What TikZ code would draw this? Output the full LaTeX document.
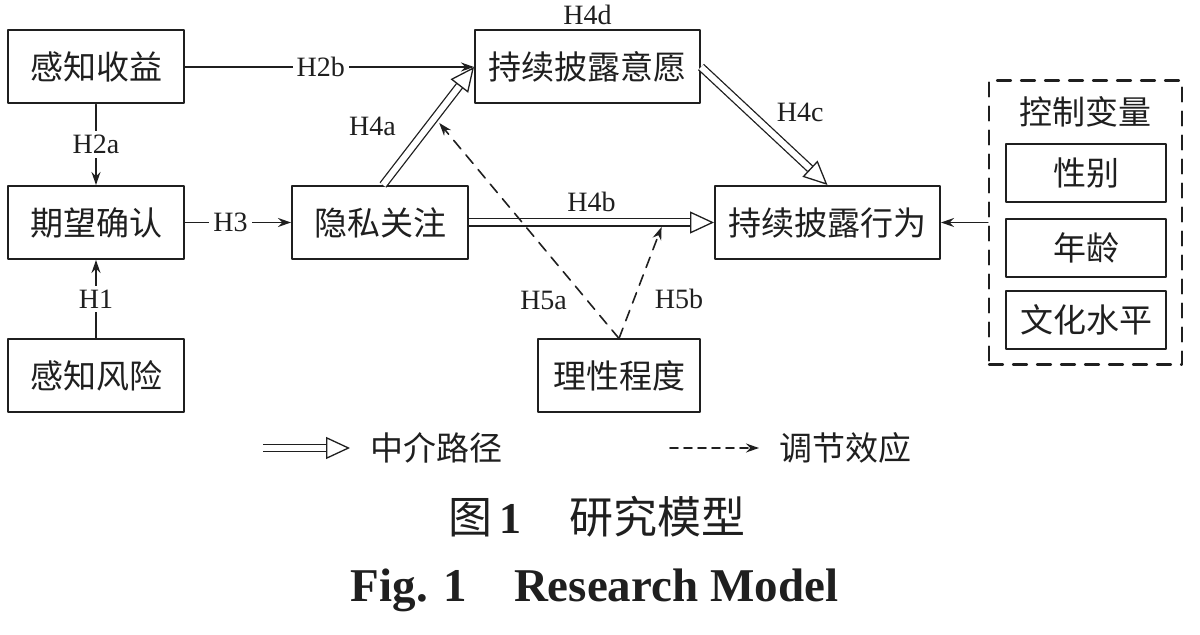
\documentclass[tikz,border=0pt]{standalone}
\usepackage{fontspec}
\setmainfont{Liberation Serif}
\newfontfamily\cjk{Noto Sans CJK SC}
\usetikzlibrary{arrows.meta}
\definecolor{ink}{gray}{0.12}

\begin{document}
\begin{tikzpicture}
	[line cap=round,line join=round,>={Stealth[length=6.5pt,width=4.5pt]},x=0.5pt,y=-0.5pt,
	 box/.style={draw=ink,line width=1pt,minimum width=88pt,minimum height=36.5pt,text=ink,font=\cjk\fontsize{16.5}{18}\selectfont},
	 sub/.style={box,minimum width=80pt,minimum height=29pt},
	 cjklabel/.style={text=ink,inner sep=2pt,font=\cjk\fontsize{16.5}{18}\selectfont},
	 hyp/.style={text=ink,inner sep=2pt,font=\fontsize{14}{16}\selectfont},
	 cut/.style={hyp,fill=white},
	 direct/.style={draw=ink,line width=0.7pt,->},
	 mediate/.style={draw=ink,line width=0.65pt,line cap=butt,double,double distance=3pt,-{Triangle[open,length=12pt,width=11pt,line width=0.65pt,fill=white]}},
	 moderate/.style={draw=ink,line width=0.8pt,dash pattern=on 5.5pt off 4pt,->}]
	\useasboundingbox (0,0) rectangle (1200,635);
	% constructs
	\node[box] (ben) at (96,67) {感知收益};
	\node[box] (exp) at (96,222.5) {期望确认};
	\node[box] (risk) at (96,376) {感知风险};
	\node[box] (priv) at (380,222.5) {隐私关注};
	\node[box,minimum width=112.5pt] (will) at (587.5,67) {持续披露意愿};
	\node[box,minimum width=112.5pt] (act) at (827.5,222.5) {持续披露行为};
	\node[box,minimum width=81pt] (rat) at (619,376) {理性程度};
	% control variables
	\node[draw=ink,line width=1.1pt,dash pattern=on 7pt off 5pt,minimum width=96.5pt,minimum height=142pt] (ctrl) at (1085.5,222.5) {};
	\node[cjklabel] (ctrlt) at (1085.5,112) {控制变量};
	\node[sub] (gen) at (1086,173.5) {性别};
	\node[sub] (age) at (1086,248) {年龄};
	\node[sub] (edu) at (1086,320) {文化水平};
	% direct paths
	\draw[direct] (ben) -- node[cut] (h2a) {H2a} (exp);
	\draw[direct] (risk) -- node[cut] (h1) {H1} (exp);
	\draw[direct] (exp) -- node[cut,pos=0.43] (h3) {H3} (priv);
	\draw[direct] (ben) -- node[cut,pos=0.47] (h2b) {H2b} (will);
	\draw[direct] (ctrl.west) -- (act.east);
	% mediating paths
	\draw[mediate] ([xshift=1.5pt]priv.north) -- coordinate[pos=0.57] (m4a) node[hyp,midway,left=14pt] (h4a) {H4a} (will.west);
	\draw[mediate] (will.east) -- node[hyp,midway,above right,xshift=4pt] (h4c) {H4c} (act.north);
	\draw[mediate] (priv.east) -- coordinate[pos=0.793] (m4b) node[hyp,midway,above=3pt] (h4b) {H4b} (act.west);
	\node[hyp,anchor=south] (h4d) at (will.north) {H4d};
	% moderating paths
	\draw[moderate,shorten >=3.4pt] (rat.north) -- node[hyp,pos=0.17,left=8pt] (h5a) {H5a} (m4a);
	\draw[moderate,shorten >=2.4pt] (rat.north) -- node[hyp,pos=0.34,right=8pt] (h5b) {H5b} (m4b);
	% legend
	\coordinate (l1a) at (263,448);
	\coordinate (l1b) at (350,448);
	\draw[mediate] (l1a) -- (l1b);
	\node[cjklabel,anchor=west] (l1t) at (366,448) {中介路径};
	\coordinate (l2a) at (670,448);
	\coordinate (l2b) at (759,448);
	\draw[moderate,dash pattern=on 4pt off 3pt] (l2a) -- (l2b);
	\node[cjklabel,anchor=west] (l2t) at (775,448) {调节效应};
	% caption
	\node[text=ink,font=\cjk\fontsize{22}{24}\selectfont] (capzh) at (597,517) {图\,{\rmfamily\bfseries 1}\hspace{1.1em}研究模型};
	\node[text=ink,font=\bfseries\fontsize{23.5}{26}\selectfont] (capen) at (594.5,590) {Fig. 1\hspace{1em}Research Model};
\end{tikzpicture}
\end{document}
